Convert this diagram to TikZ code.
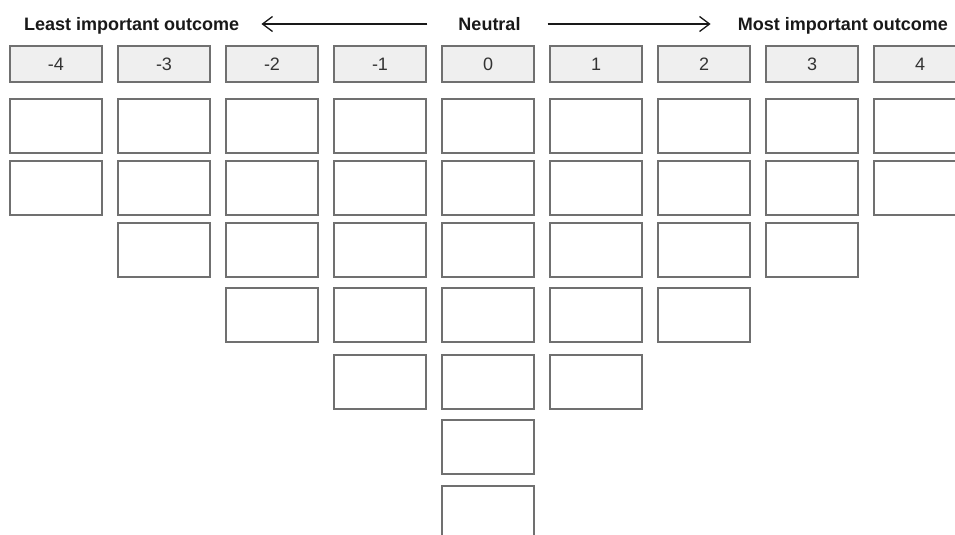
\documentclass[tikz,border=0pt]{standalone}
\usepackage{fontspec}
\setmainfont{Liberation Sans}
\usetikzlibrary{arrows.meta,positioning}
\definecolor{cborder}{RGB}{112,112,112}
\definecolor{chdr}{RGB}{239,239,239}
\tikzset{hdr/.style={draw=cborder, fill=chdr, line width=1.3pt, minimum width=92pt, minimum height=36pt, inner sep=0pt, font=\fontsize{18}{20}\selectfont, text=black!80}}
\tikzset{slot/.style={draw=cborder, fill=white, line width=1.3pt, minimum width=92pt, minimum height=54pt, inner sep=0pt}}
\tikzset{ttl/.style={inner sep=0pt, text height=14pt, text depth=0pt, font=\bfseries\fontsize{18}{20}\selectfont, text=black!90}}
\tikzset{arr/.style={-{Straight Barb[length=10pt,width=15pt,line width=1.3pt]}, line width=1.3pt, black!90}}

\begin{document}
\begin{tikzpicture}[x=1pt, y=-1pt]
        \useasboundingbox (0,0) rectangle (955,535);
        \clip (0,0) rectangle (955,535);

        %%% TITLE ROW %%%
        \node[ttl, anchor=west] (least) at (24,24) {Least important outcome};
        \node[ttl] (neutral) at (489.5,24) {Neutral};
        \node[ttl, anchor=east] (most) at (948,24) {Most important outcome};
        \draw[arr, shorten <=31pt, shorten >=22pt] (neutral.west) -- (least.east);
        \draw[arr, shorten <=27pt, shorten >=27pt] (neutral.east) -- (most.west);

        %%% COLUMNS: score / number of slots %%%
        \foreach \score/\num [count=\k from 0] in {-4/2,-3/3,-2/4,-1/5,0/7,1/5,2/4,3/3,4/2} {
            \pgfmathsetmacro{\cx}{56+108*\k}
            \node[hdr] (h\k) at (\cx,64) {\score};
            \foreach \r in {1,...,\num} {
                \pgfmathsetmacro{\cy}{{126,188,250,315,382,447,513}[\r-1]}
                \node[slot] (s\k-\r) at (\cx,\cy) {};
            }
        }
    \end{tikzpicture}
\end{document}
